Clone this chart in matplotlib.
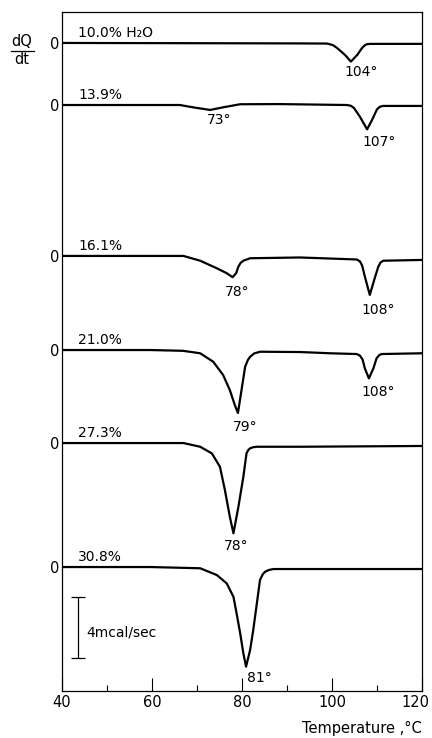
import numpy as np
import matplotlib
matplotlib.use("Agg")
import matplotlib.pyplot as plt
from matplotlib import transforms

# DSC traces: temperature (degC) and deflection (mcal/sec)
water = ['10.0% H\u2082O', '13.9%', '16.1%', '21.0%', '27.3%', '30.8%']
offsets = [42.06, 38.03, 28.23, 22.12, 16.08, 8.03]

t_100 = [40, 93, 98.9, 100.2, 101.1, 102.9, 104.2, 105.6, 106.7, 107.3, 107.8, 108.6, 110, 120]
q_100 = [0, -0.03, -0.04, -0.14, -0.32, -0.78, -1.21, -0.78, -0.32, -0.15, -0.08, -0.06, -0.06, -0.06]

t_139 = [40, 66.2, 69.1, 72.9, 75.8, 79.6, 88.4, 103.3, 104.2, 104.9, 106.2, 107.8, 108.9,
         110, 110.6, 111.3, 120]
q_139 = [0, 0, -0.15, -0.32, -0.15, 0.05, 0.06, 0, -0.05, -0.2, -0.76, -1.58, -0.97,
         -0.28, -0.12, -0.06, -0.06]

t_161 = [40, 67.0, 70.7, 74.4, 76.6, 77.9, 78.7, 79.2, 79.7, 80.3, 81.8, 92.9, 105.5, 106.2,
         106.7, 107.3, 108.4, 109.6, 110.3, 110.8, 111.4, 120]
q_161 = [0, 0, -0.31, -0.80, -1.12, -1.38, -1.12, -0.69, -0.45, -0.31, -0.15, -0.10, -0.23,
         -0.35, -0.62, -1.34, -2.53, -1.34, -0.69, -0.42, -0.31, -0.26]

t_210 = [40, 59.6, 66.9, 70.7, 73.6, 75.8, 77.3, 78.4, 79.1, 80.7, 81.3, 81.8, 82.7, 84.0,
         92.9, 99.6, 105.5, 106.2, 106.8, 107.3, 108.2, 109.2, 109.9, 110.5, 111.0, 120]
q_210 = [0, 0, -0.05, -0.21, -0.76, -1.62, -2.60, -3.57, -4.09, -1.08, -0.65, -0.44, -0.22,
         -0.11, -0.13, -0.21, -0.26, -0.36, -0.62, -1.19, -1.84, -1.19, -0.54, -0.33, -0.26, -0.21]

t_273 = [40, 59.6, 67.0, 70.7, 73.3, 75.1, 76.2, 77.3, 78.1, 79.2, 80.3, 81.0, 81.4, 81.8,
         82.5, 83.3, 92.9, 120]
q_273 = [0, 0, 0, -0.24, -0.67, -1.54, -3.05, -4.79, -5.86, -4.14, -2.19, -0.67, -0.45,
         -0.34, -0.27, -0.24, -0.24, -0.19]

t_308 = [40, 59.6, 70.7, 74.4, 76.6, 78.1, 78.8, 79.6, 80.3, 80.9, 81.8, 82.5, 83.3, 84.0,
         84.6, 85.1, 86.0, 87.0, 92.9, 120]
q_308 = [0, 0, -0.08, -0.52, -1.06, -1.93, -3.01, -4.31, -5.60, -6.47, -5.39, -4.09, -2.36,
         -0.84, -0.48, -0.31, -0.19, -0.13, -0.13, -0.13]

temps = [t_100, t_139, t_161, t_210, t_273, t_308]
heats = [q_100, q_139, q_161, q_210, q_273, q_308]

# peak temperatures and where their labels sit
peak_txt = ['104\u00b0', '73\u00b0', '107\u00b0', '78\u00b0', '108\u00b0', '79\u00b0', '108\u00b0', '78\u00b0', '81\u00b0']
peak_pos = [(106.4, 40.18), (74.9, 37.06), (110.4, 35.63), (78.9, 25.89), (110.2, 24.72),
            (80.7, 17.12), (110.2, 19.40), (78.7, 9.40), (83.8, 0.82)]

scale_len = 4  # mcal/sec

plt.rcParams['font.family'] = 'DejaVu Sans'
fig = plt.figure(figsize=(4.32, 7.38), dpi=100)
ax = fig.add_axes([62/432, 1-690.7/738, 360/432, 678.4/738])

for t, q, off, lab in zip(temps, heats, offsets, water):
    ax.plot(t, np.array(q) + off, color='black', lw=1.6, solid_joinstyle='round')
    ax.text(43.6, off + 0.65, lab, fontsize=10, ha='left', va='center')

for s, (x, y) in zip(peak_txt, peak_pos):
    ax.text(x, y, s, fontsize=10, ha='center', va='center')

# scale bar
ax.errorbar(43.5, 4.1, yerr=scale_len/2, color='black', lw=0.9, capsize=5, capthick=0.9)
ax.text(45.3, 3.81, f'{scale_len}mcal/sec', fontsize=10, ha='left', va='center')

ax.set_xlim(40, 120)
ax.set_ylim(0, 44.05)
ax.set_xticks([40, 60, 80, 100, 120])
ax.set_xticks([50, 70, 90, 110], minor=True)
ax.tick_params(axis='x', which='major', direction='in', length=9.5, width=0.8, labelsize=10.5, pad=3)
ax.tick_params(axis='x', which='minor', direction='in', length=4.5, width=0.8)
ax.set_yticks(offsets, ['0'] * len(offsets))
ax.tick_params(axis='y', length=0, labelsize=10.5, pad=2)
for sp in ax.spines.values():
    sp.set_linewidth(0.9)
ax.set_xlabel('Temperature ,\u00b0C', fontsize=10.5, loc='right', labelpad=8)

# pull the last tick label in so it stays on the page
last = ax.xaxis.get_major_ticks()[-1].label1
last.set_transform(transforms.offset_copy(last.get_transform(), fig=fig, x=-7, y=0, units='dots'))

fig.text(22/432, 1-42/738, 'dQ', fontsize=10.5, ha='center', va='center')
fig.text(22/432, 1-59/738, 'dt', fontsize=10.5, ha='center', va='center')
fig.add_artist(plt.Line2D([11/432, 34/432], [1-51/738, 1-51/738], color='black', lw=0.9))

plt.savefig('out.png', dpi=100)
